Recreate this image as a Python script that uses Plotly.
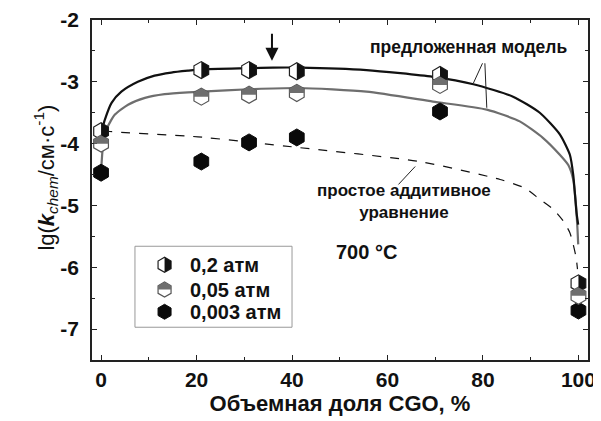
import math
import plotly.graph_objects as go

# ---- data ----
x_pts = [0, 21, 31, 41, 71, 100]
y_02 = [-3.80, -2.81, -2.81, -2.83, -2.89, -6.26]
y_005 = [-4.00, -3.24, -3.21, -3.18, -3.05, -6.46]
y_0003 = [-4.47, -4.29, -3.98, -3.90, -3.48, -6.70]

model_02_x = [0, 0.4, 0.8, 2.2, 4.25, 7.7, 11.2, 14.7, 18.2, 21, 31, 36, 41.5, 55.6, 69.5, 78, 86.3, 91.9, 96.1, 98.2, 98.9, 99.3, 99.6, 99.95]
model_02_y = [-3.85, -3.72, -3.61, -3.34, -3.16, -3.0, -2.90, -2.85, -2.82, -2.80, -2.78, -2.77, -2.77, -2.81, -2.92, -3.04, -3.24, -3.50, -3.85, -4.18, -4.50, -4.85, -5.12, -5.31]

model_005_x = [0, 0.5, 1.1, 2.9, 5.65, 9.2, 13.3, 18.2, 21, 31, 41.5, 55.6, 69.5, 80.8, 87.7, 92.6, 96.1, 97.9, 98.9, 99.5, 99.8, 99.95]
model_005_y = [-4.45, -3.95, -3.77, -3.53, -3.37, -3.26, -3.20, -3.17, -3.16, -3.12, -3.10, -3.16, -3.32, -3.45, -3.64, -3.91, -4.18, -4.35, -4.58, -5.01, -5.39, -5.63]

additive_x = [0.5, 1.5, 20.3, 41, 66.8, 83.6, 88.8, 91.9, 94.7, 96.8, 98.2, 98.9, 99.5, 99.8]
additive_y = [-3.78, -3.80, -3.89, -4.06, -4.29, -4.58, -4.72, -4.90, -5.06, -5.25, -5.44, -5.63, -5.84, -6.03]

legend_labels = ["0,2 атм", "0,05 атм", "0,003 атм"]
x_ticks = [0, 20, 40, 60, 80, 100]
x_ticktext = ["0", "20", "40", "60", "80", "100"]
y_ticks = [-7, -6, -5, -4, -3, -2]
y_ticktext = ["-7", "-6", "-5", "-4", "-3", "-2"]

FONT = "Liberation Sans, Arial, sans-serif"
MS = 17
GRAY = "#6e6e6e"


def hex_half(kind, size):
    r = size / 2.0
    rt = r * math.sqrt(3) / 2
    rh = r / 2
    if kind == "right":
        return f"M0,{r} L{rt:.2f},{rh:.2f} L{rt:.2f},{-rh:.2f} L0,{-r} Z"
    return f"M{-rt:.2f},0 L{-rt:.2f},{rh:.2f} L0,{r} L{rt:.2f},{rh:.2f} L{rt:.2f},0 Z"


fig = go.Figure()

# model curves
fig.add_trace(go.Scatter(x=additive_x, y=additive_y, mode="lines",
                         line=dict(color="#111", width=1.2, dash="dash", shape="spline", smoothing=0.6),
                         hoverinfo="skip"))
fig.add_trace(go.Scatter(x=model_005_x, y=model_005_y, mode="lines",
                         line=dict(color=GRAY, width=2.2, shape="spline", smoothing=0.6),
                         hoverinfo="skip"))
fig.add_trace(go.Scatter(x=model_02_x, y=model_02_y, mode="lines",
                         line=dict(color="#111", width=2.2, shape="spline", smoothing=0.6),
                         hoverinfo="skip"))

# markers
fig.add_trace(go.Scatter(x=x_pts, y=y_0003, mode="markers",
                         marker=dict(symbol="hexagon", size=MS, color="#0a0a0a",
                                     line=dict(color="#0a0a0a", width=1))))
fig.add_trace(go.Scatter(x=x_pts, y=y_02, mode="markers",
                         marker=dict(symbol="hexagon", size=MS, color="white",
                                     line=dict(color="#222", width=1.2))))
fig.add_trace(go.Scatter(x=x_pts, y=y_005, mode="markers",
                         marker=dict(symbol="hexagon", size=MS, color="white",
                                     line=dict(color="#555", width=1.2))))

shapes = []
for xv, yv in zip(x_pts, y_02):
    shapes.append(dict(type="path", xref="x", yref="y", xsizemode="pixel", ysizemode="pixel",
                       xanchor=xv, yanchor=yv, path=hex_half("right", MS),
                       fillcolor="#111", line=dict(width=0), layer="above"))
for xv, yv in zip(x_pts, y_005):
    shapes.append(dict(type="path", xref="x", yref="y", xsizemode="pixel", ysizemode="pixel",
                       xanchor=xv, yanchor=yv, path=hex_half("top", MS),
                       fillcolor=GRAY, line=dict(width=0), layer="above"))

# manual legend
leg_box = dict(x0=7.1, x1=40.0, y0=-6.97, y1=-5.66)
leg_mx = 13.3
leg_tx = 18.3
leg_y = [-5.96, -6.36, -6.72]
LMS = 15
shapes.append(dict(type="rect", xref="x", yref="y", **leg_box,
                   line=dict(color="#999", width=1), fillcolor="rgba(0,0,0,0)", layer="above"))
fig.add_trace(go.Scatter(x=[leg_mx], y=[leg_y[0]], mode="markers",
                         marker=dict(symbol="hexagon", size=LMS, color="white", line=dict(color="#222", width=1.2))))
fig.add_trace(go.Scatter(x=[leg_mx], y=[leg_y[1]], mode="markers",
                         marker=dict(symbol="hexagon", size=LMS, color="white", line=dict(color="#555", width=1.2))))
fig.add_trace(go.Scatter(x=[leg_mx], y=[leg_y[2]], mode="markers",
                         marker=dict(symbol="hexagon", size=LMS, color="#0a0a0a", line=dict(color="#0a0a0a", width=1))))
shapes.append(dict(type="path", xref="x", yref="y", xsizemode="pixel", ysizemode="pixel",
                   xanchor=leg_mx, yanchor=leg_y[0], path=hex_half("right", LMS),
                   fillcolor="#111", line=dict(width=0), layer="above"))
shapes.append(dict(type="path", xref="x", yref="y", xsizemode="pixel", ysizemode="pixel",
                   xanchor=leg_mx, yanchor=leg_y[1], path=hex_half("top", LMS),
                   fillcolor=GRAY, line=dict(width=0), layer="above"))

annotations = []
for lab, yv in zip(legend_labels, leg_y):
    annotations.append(dict(x=leg_tx, y=yv, xref="x", yref="y", text=f"<b>{lab}</b>",
                            showarrow=False, xanchor="left", yanchor="middle",
                            font=dict(family=FONT, size=20, color="#111")))

# text labels
annotations.append(dict(x=77.0, y=-2.43, xref="x", yref="y", text="<b>предложенная модель</b>",
                        showarrow=False, font=dict(family=FONT, size=17.5, color="#111")))
annotations.append(dict(x=63.5, y=-4.93, xref="x", yref="y",
                        text="<b>простое аддитивное<br>уравнение</b>",
                        showarrow=False, align="center", font=dict(family=FONT, size=17, color="#111")))
annotations.append(dict(x=55.7, y=-5.76, xref="x", yref="y", text="<b>700 °C</b>",
                        showarrow=False, font=dict(family=FONT, size=20, color="#111")))
# arrow
annotations.append(dict(x=35.8, y=-2.66, xref="x", yref="y", ax=35.8, ay=-2.2,
                        axref="x", ayref="y", text="", showarrow=True,
                        arrowhead=2, arrowsize=1.3, arrowwidth=2, arrowcolor="#111"))
# pointer lines
ptr_lines = [
    (79.9, -2.70, 78.0, -3.02),
    (80.4, -2.70, 80.8, -3.42),
    (65.8, -4.37, 62.3, -4.66),
]
for x0, y0, x1, y1 in ptr_lines:
    shapes.append(dict(type="line", xref="x", yref="y", x0=x0, y0=y0, x1=x1, y1=y1,
                       line=dict(color="#222", width=1), layer="above"))

# y-axis title
annotations.append(dict(x=-0.129, y=0.535, xref="paper", yref="paper", textangle=-90,
                        text="lg(<b><i>k</i></b><sub><i>chem</i></sub>/см·с<sup>-1</sup>)",
                        showarrow=False, font=dict(family=FONT, size=22, color="#111")))

axis_common = dict(showline=True, linecolor="#222", linewidth=1.5, mirror="ticks",
                   ticks="inside", ticklen=5, tickwidth=1.2, tickcolor="#222",
                   showgrid=False, zeroline=False, automargin=False,
                   tickfont=dict(family=FONT, size=21, color="#111", weight="bold"))

fig.update_layout(
    width=593, height=413,
    margin=dict(l=84, r=13, t=12, b=61),
    paper_bgcolor="white", plot_bgcolor="white",
    showlegend=False,
    shapes=shapes, annotations=annotations,
    xaxis=dict(range=[-1.9, 102], tickvals=x_ticks, ticktext=x_ticktext,
               minor=dict(dtick=10, tick0=0, ticks="inside", ticklen=3, tickcolor="#222"),
               title=dict(text="<b>Объемная доля CGO, %</b>", standoff=4,
                          font=dict(family=FONT, size=22, color="#111")),
               **axis_common),
    yaxis=dict(range=[-7.5, -2], tickvals=y_ticks, ticktext=y_ticktext, ticklabelstandoff=7,
               minor=dict(dtick=0.5, tick0=0, ticks="inside", ticklen=3, tickcolor="#222"),
               **axis_common),
)

fig.write_html("out.html")
